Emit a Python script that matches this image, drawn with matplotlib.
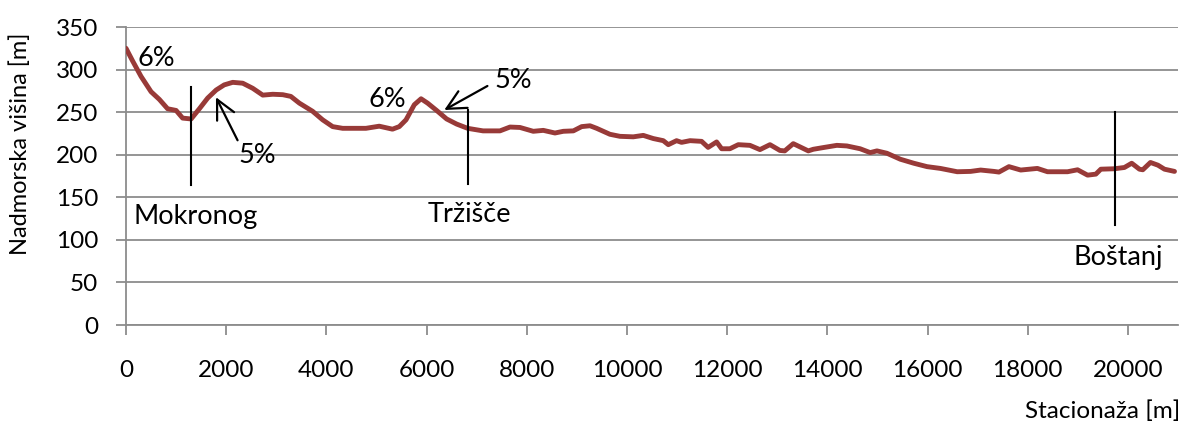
import matplotlib.pyplot as plt

plt.rcParams['font.family'] = ['Lato', 'DejaVu Sans']

# stationing [m] and elevation [m] along the route
stac = [0, 133, 300, 500, 665, 830, 1000, 1130, 1300, 1465, 1630, 1800, 1960,
        2130, 2330, 2530, 2730, 2930, 3130, 3290, 3460, 3725, 3925, 4125,
        4325, 4790, 5055, 5320, 5455, 5590, 5755, 5890, 6020, 6200, 6400,
        6600, 6820, 7127, 7465, 7665, 7865, 8130, 8330, 8563, 8730, 8930,
        9096, 9262, 9395, 9660, 9860, 10126, 10326, 10525, 10725, 10825,
        10990, 11090, 11260, 11490, 11620, 11790, 11890, 12055, 12222, 12455,
        12655, 12855, 13054, 13150, 13320, 13620, 13720, 13920, 14190, 14390,
        14655, 14855, 14990, 15190, 15457, 15725, 15990, 16257, 16593, 16860,
        17060, 17325, 17425, 17625, 17860, 18193, 18395, 18795, 18995, 19195,
        19360, 19460, 19728, 19930, 20076, 20230, 20297, 20450, 20600, 20730,
        20930]
visina = [325, 310, 292, 274, 265, 254, 252, 243, 242, 254, 266.5, 276, 282,
          285, 284, 278, 270, 271, 270.5, 268.5, 260.6, 251, 241, 233,
          231, 231, 233.5, 230, 233, 241, 258.7, 265.7, 260.6, 252, 242,
          236, 231, 228, 228, 232.5, 232, 227.5, 228.6, 225.5, 227.5, 228,
          233, 234, 231, 224, 221.6, 221, 222.7, 219, 216.5, 211.8,
          216.5, 214.5, 216.5, 215.7, 208.6, 215, 207, 207, 211.8, 211,
          206, 211.8, 205, 204.5, 213, 204.5, 206.4, 208.4, 211, 210.3,
          207, 202.5, 204.5, 201.7, 194.7, 190, 186, 183.9, 180, 180.4,
          182, 180.4, 179.6, 186, 182, 183.9, 180, 180, 182.3, 176,
          177.2, 183, 183.5, 185, 190, 183, 182.3, 190.9, 187.7, 183,
          180.4]

# place markers: name, stationing, marker bottom/top, label position
kraji = ['Mokronog', 'Tržišče', 'Boštanj']
kraji_x = [1290, 6830, 19750]
kraji_spodaj = [165, 166, 118]
kraji_zgoraj = [280, 253, 250]
kraji_txt_x = [140, 6030, 18915]
kraji_txt_y = [127, 130, 79]

fig = plt.figure(figsize=(11.84, 4.26), dpi=100)
ax = fig.add_axes([126 / 1184, 1 - 325 / 426, 1052 / 1184, 298 / 426])

siva = '#8c8c8c'
ax.plot(stac, visina, color='#983a38', lw=3.5, solid_joinstyle='round',
        solid_capstyle='round', zorder=3)

for ime, x, y0, y1, tx, ty in zip(kraji, kraji_x, kraji_spodaj, kraji_zgoraj,
                                  kraji_txt_x, kraji_txt_y):
    ax.plot([x, x], [y0, y1], color='black', lw=1.5, zorder=4)
    ax.text(tx, ty, ime, fontsize=19.5, ha='left', va='center')

# slopes
puscica = dict(arrowstyle='->, head_length=0.7, head_width=0.35',
               color='black', lw=1.6, shrinkA=0, shrinkB=0)
ax.text(220, 313, '6%', fontsize=19.5, ha='left', va='center', zorder=5)
ax.text(4850, 265, '6%', fontsize=19.5, ha='left', va='center', zorder=5)
ax.annotate('5%', xy=(1796, 267.5), xytext=(2255, 199), fontsize=19.5,
            ha='left', va='center',
            arrowprops=dict(puscica, relpos=(0.0, 1.0)))
ax.annotate('5%', xy=(6353, 252.5), xytext=(7365, 286.6), fontsize=19.5,
            ha='left', va='center',
            arrowprops=dict(puscica, relpos=(-0.2, 0.3)))

ax.set_xlim(0, 21000)
ax.set_ylim(0, 350)
ax.set_xticks(range(0, 21000, 2000))
ax.set_yticks(range(0, 351, 50))
ax.grid(axis='y', color=siva, lw=1.3)
ax.set_axisbelow(True)
for s in ['top', 'right']:
    ax.spines[s].set_visible(False)
for s in ['left', 'bottom']:
    ax.spines[s].set_color(siva)
    ax.spines[s].set_linewidth(1.3)
ax.tick_params(axis='both', colors=siva, length=7, width=1.3,
               labelcolor='black', labelsize=17.5)
ax.tick_params(axis='x', pad=18)
ax.tick_params(axis='y', pad=13)

fig.text(20 / 1184, 1 - 144 / 426, 'Nadmorska višina [m]', rotation=90,
         fontsize=17, ha='center', va='center')
fig.text(1180 / 1184, 1 - 411 / 426, 'Stacionaža [m]', fontsize=17.5,
         ha='right', va='center')

fig.savefig('out.png', dpi=100)
